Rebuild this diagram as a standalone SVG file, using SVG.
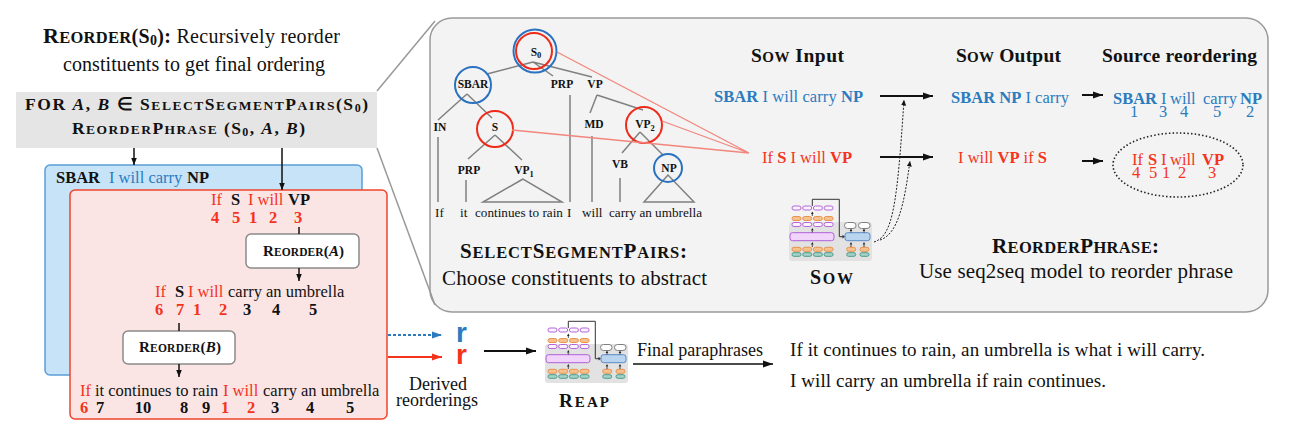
<svg xmlns="http://www.w3.org/2000/svg" width="1296" height="438" viewBox="0 0 1296 438" font-family="'Liberation Serif', 'Times New Roman', serif">
<defs>
<style>
text, tspan{font-family:'Liberation Serif','Times New Roman',serif}
text{fill:#111}
.b{font-weight:bold}
.i{font-style:italic}
.rd{fill:#f4331d}
.bl{fill:#2b7bbf}
.t16{font-size:16.5px}
.lab{font-size:11.5px;font-weight:bold;text-anchor:middle}
.wd{font-size:13.2px}
.tl{stroke:#808080;stroke-width:1.5;fill:none}
.fan{stroke:#f2867c;stroke-width:1.3;fill:none}
.arr{stroke:#111;stroke-width:2;fill:none}
.arrs{stroke:#111;stroke-width:1.5;fill:none}
.dot{stroke:#222;stroke-width:1;fill:none;stroke-dasharray:2 1.5}
.num{font-size:16.5px;font-weight:bold;text-anchor:middle}
.nr{font-size:16.5px;text-anchor:middle}
.box{fill:#fff;stroke:#8a8a8a;stroke-width:1.5}
.pu{fill:#fbf3fd;stroke:#b466d8;stroke-width:1}
.or{fill:#f6c08f;stroke:#e8944e;stroke-width:1}
.te{fill:#a3d2c8;stroke:#4d9a8b;stroke-width:1}
.wh{fill:#fff;stroke:#808080;stroke-width:1}
.sa{fill:#222}
text.sans{font-family:'Liberation Sans',Arial,sans-serif}
</style>
<marker id="ah" markerUnits="userSpaceOnUse" markerWidth="11" markerHeight="8" refX="10" refY="4" orient="auto"><path d="M0,0.5 L10,4 L0,7.5 z" fill="#111"/></marker>
<marker id="ahs" markerUnits="userSpaceOnUse" markerWidth="8" markerHeight="7" refX="7.5" refY="3.5" orient="auto"><path d="M0,0.5 L7.5,3.5 L0,6.5 z" fill="#111"/></marker>
<marker id="ahb" markerUnits="userSpaceOnUse" markerWidth="11" markerHeight="8" refX="10" refY="4" orient="auto"><path d="M0,0.5 L10,4 L0,7.5 z" fill="#2b7bbf"/></marker>
<marker id="ahr" markerUnits="userSpaceOnUse" markerWidth="11" markerHeight="8" refX="10" refY="4" orient="auto"><path d="M0,0.5 L10,4 L0,7.5 z" fill="#f4331d"/></marker>
<marker id="ahd" markerUnits="userSpaceOnUse" markerWidth="6" markerHeight="5" refX="5.5" refY="2.5" orient="auto"><path d="M0,0 L5.5,2.5 L0,5 z" fill="#111"/></marker>
<g id="icon">
<rect x="0" y="0" width="83" height="39" rx="3" fill="#e2e2e2"/>
<polyline points="23.3,-16 23.3,-22.7 50.3,-22.7 50.3,14.7 54,14.7" fill="none" stroke="#333" stroke-width="1"/>
<path d="M53.5,12.8 L56,14.7 L53.5,16.6 z" fill="#333"/>
<rect class="pu" x="3" y="-16" width="9" height="4" rx="2"/>
<rect class="pu" x="13.7" y="-16" width="9" height="4" rx="2"/>
<rect class="pu" x="24.4" y="-16" width="9" height="4" rx="2"/>
<rect class="pu" x="35.1" y="-16" width="9" height="4" rx="2"/>
<rect class="or" x="3" y="-5.5" width="9" height="4" rx="2"/>
<rect class="or" x="13.7" y="-5.5" width="9" height="4" rx="2"/>
<rect class="or" x="24.4" y="-5.5" width="9" height="4" rx="2"/>
<rect class="or" x="35.1" y="-5.5" width="9" height="4" rx="2"/>
<rect class="pu" x="3" y="0.5" width="9" height="4" rx="2"/>
<rect class="pu" x="13.7" y="0.5" width="9" height="4" rx="2"/>
<rect class="pu" x="24.4" y="0.5" width="9" height="4" rx="2"/>
<rect class="pu" x="35.1" y="0.5" width="9" height="4" rx="2"/>
<rect x="1" y="10.7" width="44" height="8" rx="2.5" fill="#f0d4fa" stroke="#b060d8" stroke-width="1"/>
<rect class="or" x="3" y="25.3" width="9" height="4" rx="2"/>
<rect class="or" x="13.7" y="25.3" width="9" height="4" rx="2"/>
<rect class="or" x="24.4" y="25.3" width="9" height="4" rx="2"/>
<rect class="or" x="35.1" y="25.3" width="9" height="4" rx="2"/>
<rect class="te" x="3" y="30.7" width="9" height="3.6" rx="1.8"/>
<rect class="te" x="13.7" y="30.7" width="9" height="3.6" rx="1.8"/>
<rect class="te" x="24.4" y="30.7" width="9" height="3.6" rx="1.8"/>
<rect class="te" x="35.1" y="30.7" width="9" height="3.6" rx="1.8"/>
<rect class="wh" x="55.5" y="0.5" width="11.5" height="6" rx="3"/>
<rect class="wh" x="69.5" y="0.5" width="11.5" height="6" rx="3"/>
<rect x="56" y="10.7" width="25" height="8" rx="2.5" fill="#b9d4ee" stroke="#5a8ac4" stroke-width="1"/>
<rect class="or" x="57.7" y="25.3" width="9" height="4" rx="2"/>
<rect class="or" x="71" y="25.3" width="9" height="4" rx="2"/>
<rect class="te" x="57.7" y="30.7" width="9" height="3.6" rx="1.8"/>
<rect class="te" x="71" y="30.7" width="9" height="3.6" rx="1.8"/>
<path class="sa" d="M22,-8 L24.6,-8 L23.3,-10.5 z M22,8.5 L24.6,8.5 L23.3,6 z M22,22.5 L24.6,22.5 L23.3,20 z M60.7,9 L63.3,9 L62,6.5 z M73.7,9 L76.3,9 L75,6.5 z M60.7,22.5 L63.3,22.5 L62,20 z M73.7,22.5 L76.3,22.5 L75,20 z"/>
<path d="M23.3,-8 V-6 M23.3,8.5 V10.5 M23.3,22.5 V25 M62,9 V10.5 M75,9 V10.5 M62,22.5 V25 M75,22.5 V25" stroke="#222" stroke-width="0.8"/>
</g>
</defs>

<rect width="1296" height="438" fill="#fff"/>

<g id="panel">
<rect x="430" y="18" width="838" height="294" rx="22" fill="#f3f3f3" stroke="#9a9a9a" stroke-width="1.5"/>
</g>

<g id="title">
<text x="43" y="43" font-size="20" textLength="297"><tspan class="b" font-size="22">R</tspan><tspan class="b" font-size="16.5">EORDER</tspan><tspan class="b">(S</tspan><tspan class="b" font-size="14" dy="2">0</tspan><tspan class="b" dy="-2">):</tspan> Recursively reorder</text>
<text x="63" y="71" font-size="20" textLength="262">constituents to get final ordering</text>
</g>

<g id="forbox">
<rect x="16" y="92" width="361" height="56" fill="#e5e5e5"/>
<text x="25" y="110" class="b" font-size="17.5" textLength="343">FOR <tspan class="i">A</tspan>, <tspan class="i">B</tspan> ∈ S<tspan font-size="13.5">ELECT</tspan>S<tspan font-size="13.5">EGMENT</tspan>P<tspan font-size="13.5">AIRS</tspan>(S<tspan font-size="12" dy="2">0</tspan><tspan dy="-2">)</tspan></text>
<text x="72" y="134" class="b" font-size="17.5" textLength="233">R<tspan font-size="13.5">EORDER</tspan>P<tspan font-size="13.5">HRASE</tspan> (S<tspan font-size="12" dy="2">0</tspan><tspan dy="-2">, </tspan><tspan class="i">A</tspan>, <tspan class="i">B</tspan>)</text>
</g>

<g id="bluebox">
<rect x="45" y="165" width="317" height="210" rx="5" fill="#c7e3f8" stroke="#5a9fd8" stroke-width="1.5"/>
<text class="t16" y="183"><tspan x="56" class="b">SBAR</tspan><tspan x="109" class="bl">I will carry</tspan><tspan x="187" class="b">NP</tspan></text>
</g>

<g id="redbox">
<rect x="70" y="190" width="317" height="229" rx="5" fill="#fbe5e4" stroke="#f0442c" stroke-width="1.5"/>
<text class="t16" y="205"><tspan x="211" class="rd">If</tspan><tspan x="231" class="b">S</tspan><tspan x="248" class="rd">I will</tspan><tspan x="288" class="b">VP</tspan></text>
<text class="num rd" x="215" y="223">4</text><text class="num rd" x="236" y="223">5</text><text class="num rd" x="253" y="223">1</text><text class="num rd" x="273" y="223">2</text><text class="num rd" x="298" y="223">3</text>
<text class="t16" y="297"><tspan x="155" class="rd">If</tspan><tspan x="175" class="b">S</tspan><tspan x="188" class="rd">I will</tspan><tspan x="228">carry an umbrella</tspan></text>
<text class="num rd" x="159" y="315">6</text><text class="num rd" x="180" y="315">7</text><text class="num rd" x="197" y="315">1</text><text class="num rd" x="223" y="315">2</text><text class="num" x="247" y="315">3</text><text class="num" x="276" y="315">4</text><text class="num" x="313" y="315">5</text>
<text class="t16" y="396"><tspan x="80" class="rd">If</tspan><tspan x="95">it continues to rain</tspan><tspan x="223" class="rd">I will</tspan><tspan x="263">carry an umbrella</tspan></text>
<text class="num rd" x="84" y="413">6</text><text class="num" x="100" y="413">7</text><text class="num" x="143" y="413">10</text><text class="num" x="184" y="413">8</text><text class="num" x="206" y="413">9</text><text class="num rd" x="225" y="413">1</text><text class="num rd" x="251" y="413">2</text><text class="num" x="275" y="413">3</text><text class="num" x="310" y="413">4</text><text class="num" x="350" y="413">5</text>
</g>

<g id="reorderA">
<rect class="box" x="246" y="234" width="113" height="34" rx="5"/>
<text x="263" y="256" class="b" font-size="15" textLength="81">R<tspan font-size="11.5">EORDER</tspan>(<tspan class="i">A</tspan>)</text>
</g>
<g id="reorderB">
<rect class="box" x="123" y="331" width="112" height="33" rx="5"/>
<text x="139" y="352" class="b" font-size="15" textLength="82">R<tspan font-size="11.5">EORDER</tspan>(<tspan class="i">B</tspan>)</text>
</g>

<g id="derived">
<text x="456" y="342" font-size="28" class="sans b bl">r</text>
<text x="456" y="364" font-size="28" class="sans b rd">r</text>
<text x="438" y="390" font-size="18" text-anchor="middle">Derived</text>
<text x="437" y="406" font-size="18" text-anchor="middle">reorderings</text>
</g>

<g id="tree">
<path class="tl" d="M533,62 L487,74 M533,62 L553,76 M533,62 L592,77 M467,94 L438,120 M467,94 L492,118 M438,137 V202 M495,135 L468,159 M495,135 L522,160 M466,180 V202 M523,179 L483,202 L562,202 Z M570,95 V202 M597,95 L590,113 M597,95 L643,110 M592,136 V202 M640,132 L622,153 M640,132 L663,155 M620,178 V202 M668,175 L644,202 L694,202 Z"/>
<circle cx="535" cy="51" r="21.5" fill="none" stroke="#2a72c0" stroke-width="2"/>
<circle cx="534" cy="51" r="18" fill="none" stroke="#ee2a1a" stroke-width="2"/>
<circle cx="473" cy="85" r="18" fill="none" stroke="#2a72c0" stroke-width="2"/>
<circle cx="495" cy="129" r="18" fill="none" stroke="#ee2a1a" stroke-width="2"/>
<circle cx="644" cy="125" r="18" fill="none" stroke="#ee2a1a" stroke-width="2"/>
<circle cx="668" cy="168" r="14" fill="none" stroke="#2a72c0" stroke-width="2"/>
<text class="lab" x="536" y="56">S<tspan font-size="8.5" dy="2">0</tspan></text>
<text class="lab" x="473" y="88">SBAR</text>
<text class="lab" x="562" y="88">PRP</text>
<text class="lab" x="595" y="88">VP</text>
<text class="lab" x="440" y="131">IN</text>
<text class="lab" x="495" y="131">S</text>
<text class="lab" x="594" y="128">MD</text>
<text class="lab" x="645" y="128">VP<tspan font-size="8.5" dy="3">2</tspan></text>
<text class="lab" x="469" y="174">PRP</text>
<text class="lab" x="524" y="174">VP<tspan font-size="8.5" dy="3">1</tspan></text>
<text class="lab" x="620" y="168">VB</text>
<text class="lab" x="669" y="172">NP</text>
<text class="wd" x="435" y="217">If</text>
<text class="wd" x="460" y="217">it</text>
<text class="wd" x="475" y="217">continues to rain</text>
<text class="wd" x="567" y="217">I</text>
<text class="wd" x="582" y="217">will</text>
<text class="wd" x="609" y="217">carry an umbrella</text>
</g>

<g id="sel-label">
<text x="460" y="258" class="b" font-size="21" textLength="227">S<tspan font-size="16.5">ELECT</tspan>S<tspan font-size="16.5">EGMENT</tspan>P<tspan font-size="16.5">AIRS</tspan>:</text>
<text x="442" y="285" font-size="21" textLength="265">Choose constituents to abstract</text>
</g>

<g id="headers">
<text x="751" y="62" class="b" font-size="19.5" textLength="93">S<tspan font-size="15">OW</tspan> Input</text>
<text x="956" y="62" class="b" font-size="19.5" textLength="105">S<tspan font-size="15">OW</tspan> Output</text>
<text x="1102" y="62" class="b" font-size="19.5" textLength="155">Source reordering</text>
</g>

<g id="sow-input">
<text x="714" y="102" class="t16 bl" textLength="149"><tspan class="b bl">SBAR</tspan> I will carry <tspan class="b bl">NP</tspan></text>
<text x="762" y="163" class="t16 rd" textLength="90">If <tspan class="b rd">S</tspan> I will <tspan class="b rd">VP</tspan></text>
</g>
<g id="sow-output">
<text x="951" y="103" class="t16 bl" textLength="118"><tspan class="b bl">SBAR NP</tspan> I carry</text>
<text x="958" y="163" class="t16 rd" textLength="89">I will <tspan class="b rd">VP</tspan> if <tspan class="b rd">S</tspan></text>
</g>
<g id="source-reordering">
<text class="t16" y="104"><tspan x="1113" class="b bl">SBAR</tspan><tspan x="1161" class="bl">I</tspan><tspan x="1170" class="bl">will</tspan><tspan x="1203" class="bl">carry</tspan><tspan x="1240" class="b bl">NP</tspan></text>
<text class="nr bl" x="1134" y="117">1</text><text class="nr bl" x="1163" y="117">3</text><text class="nr bl" x="1184" y="117">4</text><text class="nr bl" x="1217" y="117">5</text><text class="nr bl" x="1250" y="117">2</text>
<ellipse cx="1178" cy="165" rx="65" ry="32" fill="none" stroke="#222" stroke-width="1.6" stroke-dasharray="1.5 2.2"/>
<text class="t16" y="165"><tspan x="1132" class="rd">If</tspan><tspan x="1148" class="b rd">S</tspan><tspan x="1161" class="rd">I</tspan><tspan x="1170" class="rd">will</tspan><tspan x="1202" class="b rd">VP</tspan></text>
<text class="nr rd" x="1136" y="178">4</text><text class="nr rd" x="1153" y="178">5</text><text class="nr rd" x="1166" y="178">1</text><text class="nr rd" x="1182" y="178">2</text><text class="nr rd" x="1212" y="178">3</text>
</g>

<g id="sow">
<use href="#icon" x="789" y="222"/>
<text x="810" y="284" class="b" font-size="20" textLength="43">S<tspan font-size="16">OW</tspan></text>
</g>

<g id="reorderphrase-label">
<text x="992" y="253" class="b" font-size="21" textLength="167">R<tspan font-size="16.5">EORDER</tspan>P<tspan font-size="16.5">HRASE</tspan>:</text>
<text x="919" y="278" font-size="21" textLength="314">Use seq2seq model to reorder phrase</text>
</g>

<g id="reap">
<use href="#icon" x="545" y="344"/>
<text x="559" y="407" class="b" font-size="19" textLength="50">R<tspan font-size="15">EAP</tspan></text>
</g>

<g id="paraphrases">
<text x="637" y="356" font-size="18" textLength="126">Final paraphrases</text>
<text x="790" y="356" font-size="19" textLength="415">If it continues to rain, an umbrella is what i will carry.</text>
<text x="790" y="387" font-size="19" textLength="316">I will carry an umbrella if rain continues.</text>
</g>

<g id="connectors">
<line x1="377" y1="91" x2="435" y2="21" stroke="#999" stroke-width="1.5"/>
<line x1="377" y1="148" x2="435" y2="305" stroke="#999" stroke-width="1.5"/>
<line class="arrs" x1="134" y1="148" x2="134" y2="165" marker-end="url(#ahs)"/>
<line class="arrs" x1="282" y1="148" x2="282" y2="190" marker-end="url(#ahs)"/>
<line class="arrs" x1="299" y1="227" x2="299" y2="234"/>
<line class="arrs" x1="299" y1="268" x2="299" y2="281" marker-end="url(#ahs)"/>
<line class="arrs" x1="179" y1="323" x2="179" y2="331"/>
<line class="arrs" x1="179" y1="364" x2="179" y2="377" marker-end="url(#ahs)"/>
<line x1="388" y1="335" x2="442" y2="335" stroke="#2b7bbf" stroke-width="2" stroke-dasharray="3 2" marker-end="url(#ahb)"/>
<line x1="388" y1="357" x2="442" y2="357" stroke="#f4331d" stroke-width="2" marker-end="url(#ahr)"/>
<line class="arr" x1="484" y1="351" x2="536" y2="351" marker-end="url(#ah)"/>
<path class="fan" d="M557,52 L749,153 M512,130 L749,153 M662,121 L749,153"/>
<line class="arr" x1="880" y1="96" x2="933" y2="96" marker-end="url(#ah)"/>
<line class="arr" x1="880" y1="157" x2="933" y2="157" marker-end="url(#ah)"/>
<line class="arr" x1="1082" y1="95" x2="1103" y2="95" marker-end="url(#ah)"/>
<line class="arr" x1="1082" y1="161" x2="1103" y2="161" marker-end="url(#ah)"/>
<path class="dot" d="M874,242 C893,236 897,205 904,100" marker-end="url(#ahd)"/>
<path class="dot" d="M880,240 C898,234 904,205 910,161" marker-end="url(#ahd)"/>
<line class="arrs" x1="633" y1="364" x2="773" y2="364" marker-end="url(#ah)"/>
</g>
</svg>
